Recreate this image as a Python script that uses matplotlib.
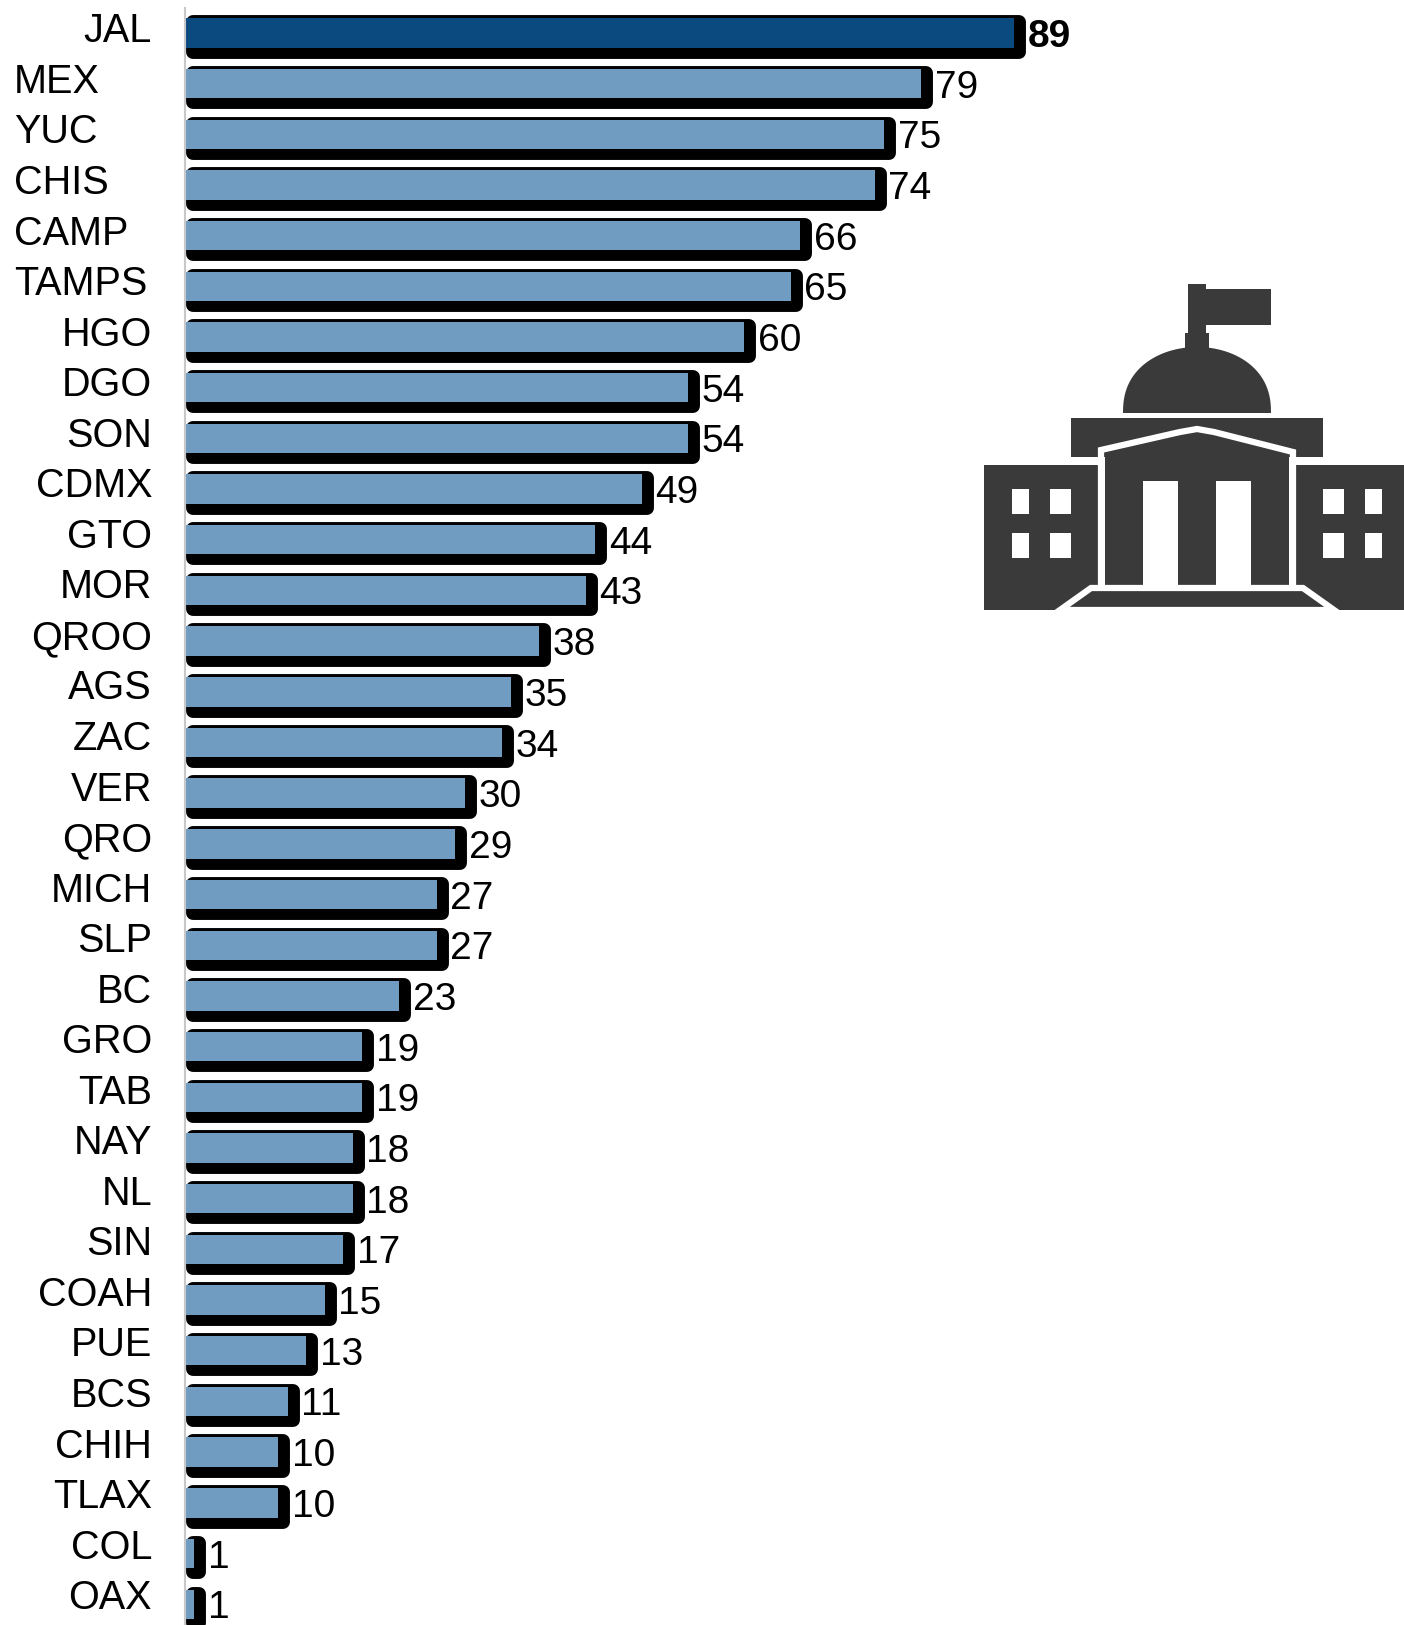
import numpy as np
import matplotlib
matplotlib.use("Agg")
import matplotlib.pyplot as plt
from matplotlib.patches import Polygon, Rectangle
from matplotlib.transforms import Affine2D

plt.rcParams["font.family"] = ["Liberation Sans", "DejaVu Sans"]

states = ["JAL", "MEX", "YUC", "CHIS", "CAMP", "TAMPS", "HGO", "DGO", "SON", "CDMX", "GTO",
          "MOR", "QROO", "AGS", "ZAC", "VER", "QRO", "MICH", "SLP", "BC", "GRO", "TAB",
          "NAY", "NL", "SIN", "COAH", "PUE", "BCS", "CHIH", "TLAX", "COL", "OAX"]
values = [89, 79, 75, 74, 66, 65, 60, 54, 54, 49, 44,
          43, 38, 35, 34, 30, 29, 27, 27, 23, 19, 19,
          18, 18, 17, 15, 13, 11, 10, 10, 1, 1]
left_aligned = ["MEX", "YUC", "CHIS", "CAMP", "TAMPS"]

W, H = 1404, 1625
BLUE = "#709cc1"
DARK = "#0a4a7f"
ICON = "#3a3a3a"

fig = plt.figure(figsize=(W / 100, H / 100), dpi=100)
ax = fig.add_axes([185 / W, 0, 1 - 185 / W, 1 - 8 / H])
ax.set_xlim(0, (W - 185) / 9.32)
ax.set_ylim(31.41, -0.49)
for side in ["top", "right", "bottom"]:
    ax.spines[side].set_visible(False)
ax.spines["left"].set_color("#c8c8c8")
ax.spines["left"].set_linewidth(1.5)
ax.set_xticks([])
ax.set_yticks([])

pos = np.arange(len(states))

# black rounded shadow, shifted a few pixels down and right of each bar
shadow = ax.barh(pos, np.array(values) - 0.35, left=0.35, height=0.58, color="black",
                 edgecolor="black", linewidth=10, joinstyle="round")
shift = ax.transData + Affine2D().translate(5, -4)
for p in shadow:
    p.set_transform(shift)

colours = [DARK if s == "JAL" else BLUE for s in states]
bars = ax.barh(pos, values, height=0.58, color=colours)

labels = ax.bar_label(bars, padding=10, fontsize=28, color="black")
labels[0].set_fontweight("bold")
for lab in labels:
    lab.xyann = (9.8, -2.9)

for i, s in enumerate(states):
    # the labels drift upward against the bars towards the bottom
    dy = 1.5 + 4.5 * i / 31
    if s in left_aligned:
        x, ha = -171, "left"
    else:
        x, ha = -33, "right"
    ax.annotate(s, xy=(0, i), xycoords=ax.get_yaxis_transform(), xytext=(x, dy),
                textcoords="offset pixels", ha=ha, va="center", fontsize=28.5,
                annotation_clip=False)

# building icon, drawn in pixel coordinates of the figure
icon = fig.add_axes([0, 0, 1, 1], facecolor="none")
icon.set_xlim(0, W)
icon.set_ylim(H, 0)
icon.axis("off")


def box(x0, y0, x1, y1, colour=ICON):
    icon.add_patch(Rectangle((x0, y0), x1 - x0, y1 - y0, facecolor=colour, edgecolor="none"))


box(1188, 284, 1206, 333)
box(1206, 289, 1271, 325)
box(1185, 333, 1209, 350)
t = np.linspace(0, np.pi, 60)
dome = np.column_stack([1197 + 74 * np.cos(t), 413 - 66 * np.sin(t) ** 0.85])
icon.add_patch(Polygon(dome, closed=True, facecolor=ICON, edgecolor="none"))
box(1071, 418, 1323, 457)
box(984, 465, 1098, 610)
box(1295, 465, 1404, 610)
icon.add_patch(Polygon([(1105, 453), (1180, 436), (1197, 433), (1214, 436), (1289, 455),
                        (1289, 585), (1105, 585)], closed=True, facecolor=ICON, edgecolor="none"))
# white outline of the portico and the steps
icon.plot([1101, 1101, 1180, 1197, 1214, 1293, 1293], [587, 450, 432, 429, 432, 452, 587],
          color="white", lw=4.5, solid_joinstyle="miter")
icon.add_patch(Polygon([(1060, 610), (1091, 588), (1303, 588), (1334, 610)], closed=True,
                       facecolor=ICON, edgecolor="white", linewidth=4.5))
box(1143, 481, 1178, 587, "white")
box(1216, 481, 1251, 587, "white")
for wx0, wx1 in [(1012, 1029), (1050, 1071), (1323, 1344), (1365, 1382)]:
    for wy0, wy1 in [(489, 514), (533, 558)]:
        box(wx0, wy0, wx1, wy1, "white")

fig.savefig("out.png", dpi=100)
